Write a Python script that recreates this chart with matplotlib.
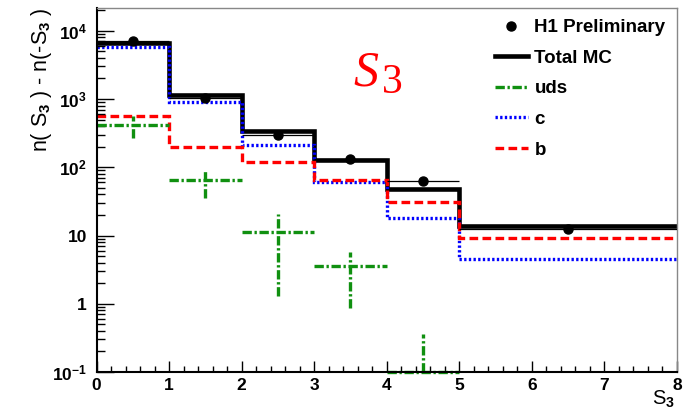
import numpy as np
import matplotlib
matplotlib.use('Agg')
import matplotlib.pyplot as plt
from matplotlib.lines import Line2D

plt.rcParams['font.family'] = ['Liberation Sans', 'DejaVu Sans']
plt.rcParams['font.weight'] = 'bold'
plt.rcParams['mathtext.fontset'] = 'custom'
plt.rcParams['mathtext.rm'] = 'Liberation Sans:bold'
plt.rcParams['mathtext.bf'] = 'Liberation Sans:bold'
plt.rcParams['mathtext.it'] = 'Liberation Sans:bold:italic'

# S3 binning and yields
edges = [0, 1, 2, 3, 4, 5, 8]
data_vals = [7000, 1050, 300, 132, 62, 12.5]
total_mc = [6600, 1150, 336, 130, 48, 13.6]
c_vals = [5700, 900, 209, 61, 18, 4.5]
b_vals = [570, 198, 118, 65, 30.6, 9.2]
uds_vals = [410, 65, 11.1, 3.6, 0.1]
uds_lo = [270, 36, 1.32, 0.87, 0.1]
uds_hi = [555, 87, 21, 5.8, 0.36]

edges = np.array(edges)
centers = 0.5 * (edges[:-1] + edges[1:])
halfw = 0.5 * np.diff(edges)

green = '#109010'
dash_b = (0, (2.6, 1.3))
dot_c = (0, (0.7, 0.7))
dashdot_uds = (0, (2.8, 0.8, 0.7, 0.8))

fig = plt.figure(figsize=(6.9, 4.12), dpi=100)
ax = fig.add_axes([0.140, 0.097, 0.841, 0.884])

ax.stairs(total_mc, edges, baseline=None, color='black', lw=3.3)
ax.stairs(c_vals, edges, baseline=None, color='#0000ff', lw=2.4, linestyle=dot_c)
ax.stairs(b_vals, edges, baseline=None, color='#ff0000', lw=2.4, linestyle=dash_b)

# uds drawn as crosses: bin width horizontally, uncertainty vertically
n = len(uds_vals)
hl = ax.hlines(uds_vals, edges[:n], edges[1:n + 1], colors=green, lw=2.4,
               linestyles=dashdot_uds)
hl.set_clip_on(False)
ax.vlines(centers[:n], uds_lo, uds_hi, colors=green, lw=2.4, linestyles=dashdot_uds)

ax.errorbar(centers, data_vals, xerr=halfw, fmt='o', color='black', ms=6.5,
            elinewidth=0.9, capsize=0, zorder=5)

ax.set_yscale('log')
ax.set_xlim(0, 8)
ax.set_ylim(0.1, 2.17e4)

ax.set_yticks([0.1, 1, 10, 100, 1e3, 1e4])
ax.set_yticklabels([r'$\mathbf{10^{-1}}$', '1', '10', r'$\mathbf{10^{2}}$',
                    r'$\mathbf{10^{3}}$', r'$\mathbf{10^{4}}$'])
ax.set_xticks(range(0, 9))
ax.set_xticks(np.arange(0, 8.01, 0.2), minor=True)

ax.tick_params(axis='both', which='both', direction='in', labelsize=12.5,
               top=False, right=False)
ax.tick_params(axis='y', which='major', length=12, width=1.0, pad=7)
ax.tick_params(axis='y', which='minor', length=6, width=1.0)
ax.tick_params(axis='x', which='major', length=8, width=1.0, pad=4)
ax.tick_params(axis='x', which='minor', length=4, width=1.0)

for s in ['left', 'bottom']:
    ax.spines[s].set_linewidth(1.5)
for s in ['top', 'right']:
    ax.spines[s].set_color('#888888')
    ax.spines[s].set_linewidth(1.0)

ax.set_ylabel(r'n( S$_{\mathbf{3}}$ ) - n(-S$_{\mathbf{3}}$ )', fontsize=15.5, loc='top')
ax.yaxis.set_label_coords(-0.074, 1.0)
ax.set_xlabel(r'S$_{\mathbf{3}}$', fontsize=14.5, loc='right', va='top')
ax.xaxis.set_label_coords(0.997, -0.045)

# big variable name in the plot body: italic S with upright subscript
ax.text(0.443, 0.821, 'S', transform=ax.transAxes, color='#ff0000',
        fontsize=36, fontfamily='Liberation Serif', fontstyle='italic',
        fontweight='normal', ha='left', va='center')
ax.text(0.491, 0.795, '3', transform=ax.transAxes, color='#ff0000',
        fontsize=30, fontfamily='Liberation Serif', fontweight='normal',
        ha='left', va='center')

handles = [
    Line2D([], [], marker='o', color='black', ls='none', ms=6.5),
    Line2D([], [], color='black', lw=3.3),
    Line2D([], [], color=green, lw=2.4, ls=dashdot_uds),
    Line2D([], [], color='#0000ff', lw=2.4, ls=dot_c),
    Line2D([], [], color='#ff0000', lw=2.4, ls=dash_b),
]
labels = ['H1 Preliminary', 'Total MC', 'uds', 'c', 'b']
fig.legend(handles, labels, loc='upper left', bbox_to_anchor=(495 / 690, 1 - 19 / 412),
           frameon=False, fontsize=13.5, handlelength=1.75, handletextpad=0.35,
           labelspacing=0.72, borderpad=0, borderaxespad=0)

fig.savefig('out.png', dpi=100)
